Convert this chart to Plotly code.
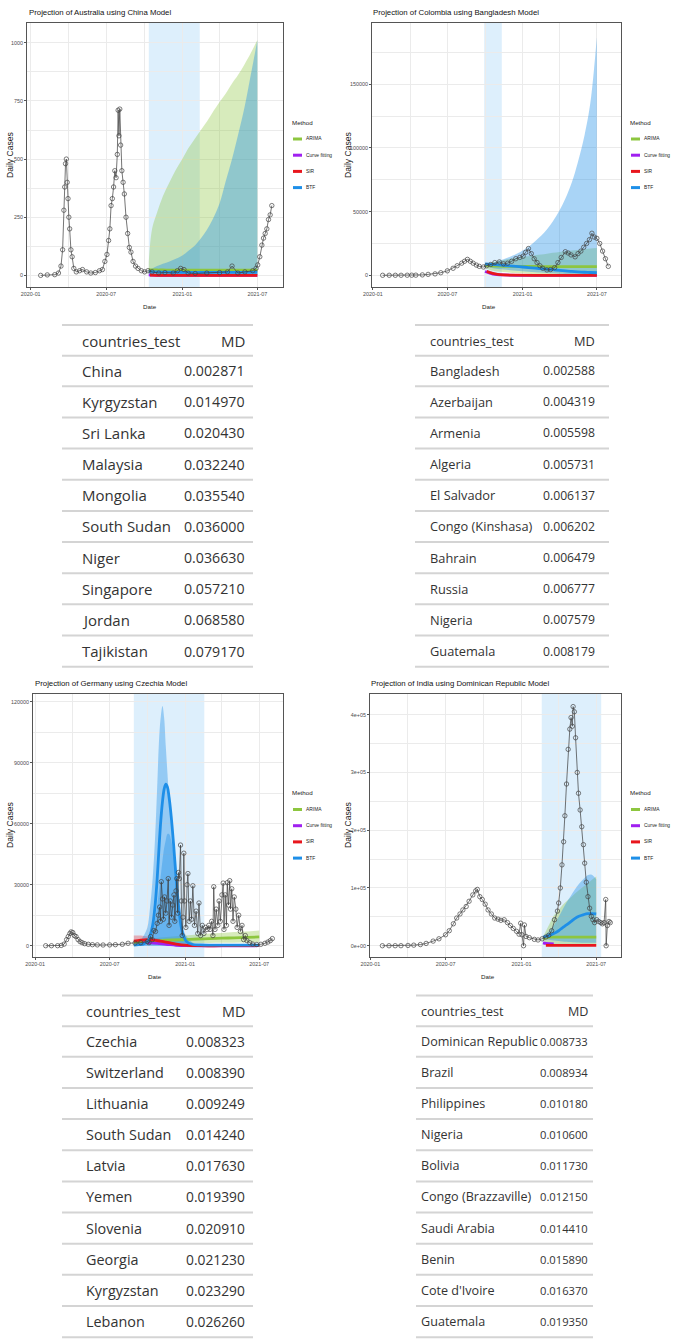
import plotly.graph_objects as go

W, H = 676, 1342

# ======================= DATA =======================
# ---- Australia (China model) ----
aus_obs_dates = ["2020-01-25","2020-02-10","2020-02-28","2020-03-08","2020-03-14","2020-03-18","2020-03-21","2020-03-23","2020-03-25","2020-03-27",
                 "2020-03-29","2020-03-31","2020-04-02","2020-04-04","2020-04-07","2020-04-10","2020-04-14","2020-04-20","2020-04-28","2020-05-05",
                 "2020-05-15","2020-05-25","2020-06-05","2020-06-15","2020-06-22","2020-06-28","2020-07-03","2020-07-07","2020-07-10","2020-07-13",
                 "2020-07-16","2020-07-19","2020-07-22","2020-07-25","2020-07-28","2020-07-30","2020-08-01","2020-08-03","2020-08-05","2020-08-08",
                 "2020-08-11","2020-08-14","2020-08-18","2020-08-22","2020-08-26","2020-08-30","2020-09-04","2020-09-10","2020-09-16","2020-09-24",
                 "2020-10-02","2020-10-10","2020-10-20","2020-11-05","2020-11-20","2020-12-10","2020-12-20","2020-12-28","2021-01-05","2021-01-15",
                 "2021-02-01","2021-03-01","2021-04-01","2021-04-20","2021-05-01","2021-05-15","2021-06-01","2021-06-20","2021-06-28","2021-07-02",
                 "2021-07-07","2021-07-12","2021-07-16","2021-07-20","2021-07-24","2021-07-28","2021-08-01","2021-08-05"]
aus_obs_cases = [0,2,3,10,40,110,280,380,480,500,
                 400,330,250,200,110,80,30,15,20,25,
                 15,10,12,20,25,60,90,150,200,300,
                 330,380,450,420,520,710,600,715,560,450,
                 400,350,250,180,120,100,60,40,30,20,
                 15,20,15,10,12,10,20,30,25,10,
                 8,10,12,15,40,10,15,20,30,45,
                 80,130,160,180,200,240,260,300]
aus_fc_dates = ["2020-10-12","2020-10-20","2020-11-01","2020-11-15","2020-12-01","2020-12-15","2021-01-01","2021-01-15","2021-02-01","2021-02-15",
                "2021-03-01","2021-03-15","2021-04-01","2021-04-15","2021-05-01","2021-05-15","2021-06-01","2021-06-15","2021-07-01"]
aus_arima    = [25,24,23,23,22,22,22,22,22,22,22,22,22,22,22,22,22,22,22]
aus_arima_lo = [0,0,0,0,0,0,0,0,0,0,0,0,0,0,0,0,0,0,0]
aus_arima_hi = [60,200,270,340,400,450,500,545,590,625,660,700,745,780,825,860,910,955,1012]
aus_btf      = [18,16,15,14,14,13,13,13,13,13,13,13,13,13,13,13,13,13,13]
aus_btf_lo   = [3,3,3,3,3,3,3,3,3,3,3,3,3,3,3,3,3,3,3]
aus_btf_hi   = [25,30,40,50,60,70,85,105,130,160,195,240,310,400,500,600,730,860,1010]
aus_curve_dates = ["2020-10-12","2020-10-20","2021-01-01","2021-07-01"]
aus_curve       = [2,1,0,0]
aus_sir_dates   = ["2020-10-15","2020-11-15","2021-01-01","2021-04-01","2021-07-01"]
aus_sir         = [1,0,0,0,0]
aus_window = ["2020-10-12","2021-02-12"]

# ---- Colombia (Bangladesh model) ----
col_obs_dates = ["2020-01-25","2020-02-10","2020-02-25","2020-03-10","2020-03-25","2020-04-05","2020-04-15","2020-05-01","2020-05-15","2020-06-01",
                 "2020-06-15","2020-07-01","2020-07-15","2020-07-25","2020-08-05","2020-08-12","2020-08-19","2020-08-26","2020-09-02","2020-09-10",
                 "2020-09-17","2020-09-27","2020-10-05","2020-10-15","2020-10-25","2020-11-05","2020-11-15","2020-11-25","2020-12-05","2020-12-15",
                 "2020-12-25","2021-01-02","2021-01-08","2021-01-15","2021-01-22","2021-01-29","2021-02-05","2021-02-12","2021-02-19","2021-03-01",
                 "2021-03-10","2021-03-20","2021-03-28","2021-04-05","2021-04-15","2021-04-22","2021-04-29","2021-05-09","2021-05-16","2021-05-23",
                 "2021-05-30","2021-06-06","2021-06-13","2021-06-19","2021-06-25","2021-07-01","2021-07-08","2021-07-15","2021-07-22","2021-07-29"]
col_obs_cases = [0,0,0,0,50,80,100,300,700,1100,
                 2000,3500,5500,7500,9500,11000,12500,11000,9500,8000,
                 7000,6500,7500,8500,10000,10500,9000,9500,11000,13000,
                 14000,15000,18000,21000,17000,13000,10000,7500,5500,4200,
                 4500,6000,10000,14000,18500,17500,16000,14500,17000,19000,
                 22000,25000,28000,33000,30000,29000,25000,19000,13000,7000]
col_fc_dates = ["2020-10-01","2020-10-15","2020-11-01","2020-11-15","2020-12-01","2020-12-15","2021-01-01","2021-01-15","2021-02-01","2021-02-15",
                "2021-03-01","2021-03-15","2021-04-01","2021-04-15","2021-05-01","2021-05-15","2021-06-01","2021-06-15","2021-07-01"]
col_arima    = [8000,7500,7200,7000,7000,7000,6900,6900,6900,6800,6800,6800,6800,6800,6800,6800,6800,6800,6800]
col_arima_lo = [6000,4000,3000,2500,2000,1800,1500,1300,1100,1000,900,800,700,600,500,400,300,200,100]
col_arima_hi = [9000,10000,11000,12000,13000,13500,14500,15000,15800,16400,17000,17600,18300,18800,19400,19900,20500,21000,21500]
col_btf      = [9000,8600,8200,7800,7400,7000,6500,6100,5600,5200,4800,4400,3900,3500,3000,2700,2400,2200,2000]
col_btf_lo   = [7000,6000,5000,4500,4000,3600,3200,2800,2400,2100,1800,1500,1300,1100,900,800,600,500,400]
col_btf_hi   = [9000,9500,11000,12500,14500,16500,19500,22500,27000,31000,36000,42000,51000,60000,73000,88000,110000,135000,187000]
col_curve_dates = ["2020-10-01","2020-10-10","2020-10-20","2020-11-15","2021-07-01"]
col_curve       = [3000,2000,1000,300,0]
col_sir_dates   = ["2020-10-05","2020-10-12","2020-10-20","2020-11-01","2020-11-15","2020-12-15","2021-02-01","2021-04-01","2021-07-01"]
col_sir         = [3000,2300,1500,700,300,100,0,0,0]
col_window = ["2020-09-29","2020-11-11"]

# ---- Germany (Czechia model) ----
ger_obs_dates = ["2020-01-27","2020-02-10","2020-02-25","2020-03-05","2020-03-12","2020-03-18","2020-03-22","2020-03-26","2020-03-29","2020-04-02",
                 "2020-04-06","2020-04-10","2020-04-15","2020-04-20","2020-04-25","2020-05-01","2020-05-10","2020-05-20","2020-06-01","2020-06-15",
                 "2020-07-01","2020-07-15","2020-08-01","2020-08-15","2020-09-01","2020-09-15",
                 "2020-10-01","2020-10-05","2020-10-09","2020-10-13","2020-10-17","2020-10-21","2020-10-25","2020-10-28","2020-10-31","2020-11-02",
                 "2020-11-04","2020-11-07","2020-11-09","2020-11-12","2020-11-15","2020-11-18","2020-11-21","2020-11-23","2020-11-26","2020-11-29",
                 "2020-12-02","2020-12-05","2020-12-07","2020-12-10","2020-12-12","2020-12-14","2020-12-16","2020-12-18","2020-12-21","2020-12-23",
                 "2020-12-25","2020-12-27","2020-12-29","2020-12-31","2021-01-03","2021-01-06","2021-01-08","2021-01-11","2021-01-14","2021-01-17",
                 "2021-01-20","2021-01-24","2021-01-28","2021-02-01","2021-02-04","2021-02-08","2021-02-12","2021-02-16","2021-02-20","2021-02-24",
                 "2021-02-28","2021-03-03","2021-03-07","2021-03-10","2021-03-12","2021-03-15","2021-03-18","2021-03-22","2021-03-25","2021-03-28",
                 "2021-04-01","2021-04-04","2021-04-06","2021-04-09","2021-04-12","2021-04-14","2021-04-17","2021-04-20","2021-04-22","2021-04-25",
                 "2021-04-28","2021-05-01","2021-05-05","2021-05-08","2021-05-12","2021-05-16","2021-05-20","2021-05-24","2021-05-28","2021-06-01",
                 "2021-06-08","2021-06-15","2021-06-25","2021-07-05","2021-07-15","2021-07-22","2021-07-28","2021-08-02"]
ger_obs_cases = [0,0,10,150,800,3000,4500,6000,6800,6500,
                 5000,4500,3000,2000,1500,1000,700,500,400,350,
                 400,500,700,1200,1300,1500,
                 2000,1500,4500,3000,7500,7000,11000,15000,19000,12000,
                 31500,23000,13000,24000,16000,22000,33000,10000,22000,14000,
                 20000,25000,12000,27000,33000,16000,36000,33000,49500,22000,
                 5000,14000,45500,22000,9000,30000,35500,12000,22000,13000,
                 29500,10000,17000,6000,21000,5000,10000,6000,9000,8000,
                 10000,8000,12000,5000,29000,8000,18000,10000,22000,12000,
                 25000,30800,8000,25000,10000,31000,20000,32000,18000,28000,
                 12000,24000,18000,9000,15000,7000,10000,3000,5000,2500,
                 1500,800,600,700,1200,1800,2500,3500]
ger_btf_dates = ["2020-08-29","2020-09-10","2020-09-21","2020-10-01","2020-10-07","2020-10-14","2020-10-20","2020-10-25","2020-10-30","2020-11-03",
                 "2020-11-07","2020-11-11","2020-11-15","2020-11-19","2020-11-23","2020-11-28","2020-12-04","2020-12-10","2020-12-16","2020-12-22",
                 "2020-12-28","2021-01-05","2021-01-20","2021-02-07","2021-03-01","2021-04-01","2021-05-01","2021-06-01","2021-07-01"]
ger_btf       = [300,500,800,2000,4500,10000,20000,33000,50000,62000,
                 71000,77000,79500,78000,73000,64000,50000,34000,20000,10000,
                 5000,2000,600,400,300,300,300,300,300]
ger_btf_hi95  = [500,1500,4600,9000,17700,33000,53700,78000,102800,113000,
                 117900,112000,98000,85000,72000,60000,48000,35000,24000,15000,
                 8000,4500,1500,800,600,500,500,500,500]
ger_btf_hi80  = [0,100,300,1000,3000,7000,13000,20000,28000,35000,
                 42000,48000,52000,55000,55000,52000,45000,34000,22000,12000,
                 7000,2000,300,100,0,0,0,0,0]
ger_btf_lo    = [0,0,0,0,0,0,0,0,0,0,0,0,0,0,0,0,0,0,0,0,0,0,0,0,0,0,0,0,0]
ger_arima_dates = ["2020-08-29","2020-10-01","2020-11-01","2020-12-01","2021-01-01","2021-02-01","2021-03-01","2021-04-01","2021-05-01","2021-06-01","2021-07-01"]
ger_arima    = [1500,2000,2500,2800,3000,3300,3500,3700,3900,4100,4300]
ger_arima_lo = [1200,1000,1000,1100,1200,1300,1300,1400,1500,1600,1700]
ger_arima_hi = [1800,3000,4000,4500,5000,5500,6000,6300,6700,7000,7500]
ger_sir_dates = ["2020-08-29","2020-09-15","2020-10-01","2020-10-15","2020-11-01","2020-11-15","2020-12-01","2020-12-15","2021-01-01","2021-01-20",
                 "2021-02-10","2021-04-01","2021-07-01"]
ger_sir      = [2300,2800,3000,2800,2300,1800,1200,700,300,100,0,0,0]
ger_sir_lo   = [1800,2000,2000,1800,1400,1100,700,400,150,50,0,0,0]
ger_sir_hi   = [5000,5000,4500,4000,3200,2500,1700,1000,500,200,0,0,0]
ger_curve_dates = ["2020-09-20","2020-10-10","2020-11-01","2020-11-20","2020-12-10","2021-01-01","2021-07-01"]
ger_curve       = [1500,1400,1000,600,200,0,0]
ger_window = ["2020-08-29","2021-02-17"]

# ---- India (Dominican Republic model) ----
ind_obs_dates = ["2020-01-30","2020-02-15","2020-03-01","2020-03-15","2020-04-01","2020-04-15","2020-05-01","2020-05-15","2020-06-01","2020-06-15",
                 "2020-07-01","2020-07-10","2020-07-20","2020-07-28","2020-08-05","2020-08-12","2020-08-20","2020-08-27","2020-09-05","2020-09-12",
                 "2020-09-16","2020-09-22","2020-09-28","2020-10-05","2020-10-12","2020-10-20","2020-10-28","2020-11-05","2020-11-12","2020-11-20",
                 "2020-11-28","2020-12-05","2020-12-12","2020-12-20","2020-12-26","2020-12-30","2021-01-02","2021-01-06","2021-01-08","2021-01-12",
                 "2021-01-20","2021-02-01","2021-02-10","2021-02-20","2021-03-01","2021-03-08","2021-03-15","2021-03-22","2021-03-29","2021-04-01",
                 "2021-04-05","2021-04-09","2021-04-13","2021-04-16","2021-04-20","2021-04-24","2021-04-28","2021-05-01","2021-05-04","2021-05-06",
                 "2021-05-09","2021-05-12","2021-05-16","2021-05-19","2021-05-23","2021-05-27","2021-05-31","2021-06-03","2021-06-07","2021-06-11",
                 "2021-06-15","2021-06-19","2021-06-23","2021-06-27","2021-07-02","2021-07-07","2021-07-12","2021-07-16","2021-07-20","2021-07-24",
                 "2021-07-25","2021-07-28","2021-08-01","2021-08-04"]
ind_obs_cases = [0,0,50,100,500,1000,2000,4000,8000,12000,
                 19000,26000,38000,48000,55000,62000,68000,77000,88000,95000,
                 97500,85000,80000,72000,62000,55000,48000,46000,44000,45000,
                 40000,35000,30000,25000,20000,39000,19000,0,36000,16000,
                 14000,11000,10000,12000,15000,18000,26000,45000,60000,74000,
                 100000,140000,180000,225000,280000,340000,375000,395000,380000,414000,
                 405000,360000,300000,264000,235000,206000,175000,143000,110000,85000,
                 65000,51000,45000,40000,45000,42000,40000,38000,40000,80000,
                 0,35000,42000,40000]
ind_fc_dates = ["2021-02-22","2021-03-01","2021-03-10","2021-03-20","2021-04-01","2021-04-10","2021-04-20","2021-05-01","2021-05-10","2021-05-20",
                "2021-06-01","2021-06-10","2021-06-20","2021-07-01"]
ind_arima    = [12000,14000,15000,15000,15000,15000,15000,15000,15000,15000,15000,15000,15000,15000]
ind_arima_lo = [9000,6000,4000,3000,2500,2000,1500,1200,1000,800,600,500,400,300]
ind_arima_hi = [15000,25000,38000,52000,62000,70000,77000,84000,90000,96000,103000,108000,114000,120000]
ind_btf      = [15000,16000,18000,21000,26000,31000,36000,42000,47000,51000,54000,55500,55500,55000]
ind_btf_lo   = [14000,12000,10000,9000,8000,7500,7000,6500,6000,5500,5000,5000,5000,5000]
ind_btf_hi   = [16000,20000,26000,35000,50000,62000,75000,87000,97000,107000,116000,122000,123000,115000]
ind_curve_dates = ["2021-02-22","2021-03-01","2021-03-10","2021-03-20"]
ind_curve       = [5000,4000,3500,3000]
ind_sir_dates   = ["2021-03-01","2021-04-01","2021-05-01","2021-06-01","2021-07-01"]
ind_sir         = [600,500,500,500,500]
ind_window = ["2021-02-19","2021-07-13"]

# ---- y tick labels ----
aus_yticks = [0, 250, 500, 750, 1000];            aus_ylabels = ["0", "250", "500", "750", "1000"]
col_yticks = [0, 50000, 100000, 150000];          col_ylabels = ["0", "50000", "100000", "150000"]
ger_yticks = [0, 30000, 60000, 90000, 120000];    ger_ylabels = ["0", "30000", "60000", "90000", "120000"]
ind_yticks = [0, 100000, 200000, 300000, 400000]; ind_ylabels = ["0e+00", "1e+05", "2e+05", "3e+05", "4e+05"]
aus_yminor = [125, 375, 625, 875]
col_yminor = [25000, 75000, 125000, 175000]
ger_yminor = [15000, 45000, 75000, 105000]
ind_yminor = [50000, 150000, 250000, 350000]

methods = ["ARIMA", "Curve fitting", "SIR", "BTF"]

# ---- tables ----
table_header = ["countries_test", "MD"]
tl_countries = ["China","Kyrgyzstan","Sri Lanka","Malaysia","Mongolia","South Sudan","Niger","Singapore","Jordan","Tajikistan"]
tl_md = [0.002871,0.014970,0.020430,0.032240,0.035540,0.036000,0.036630,0.057210,0.068580,0.079170]
tr_countries = ["Bangladesh","Azerbaijan","Armenia","Algeria","El Salvador","Congo (Kinshasa)","Bahrain","Russia","Nigeria","Guatemala"]
tr_md = [0.002588,0.004319,0.005598,0.005731,0.006137,0.006202,0.006479,0.006777,0.007579,0.008179]
bl_countries = ["Czechia","Switzerland","Lithuania","South Sudan","Latvia","Yemen","Slovenia","Georgia","Kyrgyzstan","Lebanon"]
bl_md = [0.008323,0.008390,0.009249,0.014240,0.017630,0.019390,0.020910,0.021230,0.023290,0.026260]
br_countries = ["Dominican Republic","Brazil","Philippines","Nigeria","Bolivia","Congo (Brazzaville)","Saudi Arabia","Benin","Cote d'Ivoire","Guatemala"]
br_md = [0.008733,0.008934,0.010180,0.010600,0.011730,0.012150,0.014410,0.015890,0.016370,0.019350]

for a, b in [(aus_obs_dates, aus_obs_cases), (col_obs_dates, col_obs_cases), (ger_obs_dates, ger_obs_cases), (ind_obs_dates, ind_obs_cases)]:
    assert len(a) == len(b), (len(a), len(b))

# ======================= STYLE =======================
def X(p): return p / W
def Y(p): return 1 - p / H

SANS = "Liberation Sans, Arial, sans-serif"
TABLE_FONT = "Open Sans, Noto Sans, sans-serif"
C = {"ARIMA": "#8DC63F", "Curve fitting": "#A020F0", "SIR": "#E8161D", "BTF": "#1E8FE8"}
F_ARIMA = "rgba(141,198,63,0.35)"
F_BTF = "rgba(30,143,232,0.38)"
F_SIR = "rgba(232,22,29,0.30)"
WINDOW_FILL = "rgba(150,205,245,0.32)"
GRID = "#EBEBEB"

fig = go.Figure()


def ax_ids(n):
    s = "" if n == 1 else str(n)
    return "x" + s, "y" + s, s


def ribbon(n, dates, lo, hi, fill):
    xa, ya, _ = ax_ids(n)
    fig.add_trace(go.Scatter(x=dates, y=lo, mode="lines", line=dict(width=0, shape="spline"),
                             xaxis=xa, yaxis=ya, showlegend=False, hoverinfo="skip"))
    fig.add_trace(go.Scatter(x=dates, y=hi, mode="lines", line=dict(width=0, shape="spline"),
                             fill="tonexty", fillcolor=fill, xaxis=xa, yaxis=ya,
                             showlegend=False, hoverinfo="skip"))


def line(n, dates, vals, method):
    xa, ya, _ = ax_ids(n)
    fig.add_trace(go.Scatter(x=dates, y=vals, mode="lines", name=method,
                             line=dict(color=C[method], width=2.8, shape="spline"),
                             xaxis=xa, yaxis=ya, showlegend=False))


def observed(n, dates, vals):
    xa, ya, _ = ax_ids(n)
    fig.add_trace(go.Scatter(x=dates, y=vals, mode="lines+markers",
                             line=dict(color="#3a3a3a", width=0.7),
                             marker=dict(symbol="circle-open", size=4.4, color="#444444", line=dict(width=0.7)),
                             xaxis=xa, yaxis=ya, showlegend=False))


def axes(n, xd, yd, xr, yr, yticks, ylabels, yminor, window):
    xa, ya, s = ax_ids(n)
    tickfont = dict(family=SANS, size=5.4, color="#4D4D4D")
    common = dict(showline=True, mirror=True, linecolor="#555555", linewidth=1,
                  showgrid=True, gridcolor=GRID, gridwidth=1, zeroline=False, automargin=False,
                  ticks="outside", ticklen=2, tickwidth=0.6, tickcolor="#555555", tickfont=tickfont)
    fig.update_layout(**{
        "xaxis" + s: dict(domain=[X(xd[0]), X(xd[1])], range=list(xr), anchor=ya, type="date",
                          tickformat="%Y-%m", dtick="M6", tick0="2020-01-01",
                          minor=dict(dtick="M3", tick0="2020-01-01", showgrid=True, gridcolor=GRID, gridwidth=0.5),
                          **common),
        "yaxis" + s: dict(domain=[Y(yd[1]), Y(yd[0])], range=list(yr), anchor=xa,
                          tickmode="array", tickvals=yticks, ticktext=ylabels,
                          minor=dict(tickvals=yminor, showgrid=True, gridcolor=GRID, gridwidth=0.5),
                          **common),
    })
    fig.add_shape(type="rect", xref=xa, yref=ya + " domain", x0=window[0], x1=window[1], y0=0, y1=1,
                  fillcolor=WINDOW_FILL, line=dict(width=0), layer="below")


def texts(title, tx, ty, ylab_x, ylab_y, date_x, date_y, leg_x, leg_y):
    fig.add_annotation(text=title, x=X(tx), y=Y(ty), xref="paper", yref="paper", xanchor="left", yanchor="middle",
                       showarrow=False, font=dict(family=SANS, size=7.8, color="#111111"))
    fig.add_annotation(text="Daily Cases", x=X(ylab_x), y=Y(ylab_y), xref="paper", yref="paper", textangle=-90,
                       xanchor="center", yanchor="middle", showarrow=False, font=dict(family=SANS, size=8.6, color="#222222"))
    fig.add_annotation(text="Date", x=X(date_x), y=Y(date_y), xref="paper", yref="paper", xanchor="center",
                       yanchor="middle", showarrow=False, font=dict(family=SANS, size=6.2, color="#222222"))
    fig.add_annotation(text="Method", x=X(leg_x), y=Y(leg_y), xref="paper", yref="paper", xanchor="left",
                       yanchor="middle", showarrow=False, font=dict(family=SANS, size=6.2, color="#222222"))
    for i, m in enumerate(methods):
        yy = leg_y + 17 + 16.2 * i
        fig.add_shape(type="line", xref="paper", yref="paper", x0=X(leg_x + 3), x1=X(leg_x + 12),
                      y0=Y(yy), y1=Y(yy), line=dict(color=C[m], width=3))
        fig.add_annotation(text=m, x=X(leg_x + 14), y=Y(yy), xref="paper", yref="paper", xanchor="left",
                           yanchor="middle", showarrow=False, font=dict(family=SANS, size=4.9, color="#222222"))


# ---- Panel 1: Australia ----
axes(1, (27, 283), (23, 287), ("2019-12-23", "2021-09-01"), (-50, 1085), aus_yticks, aus_ylabels, aus_yminor, aus_window)
ribbon(1, aus_fc_dates, aus_arima_lo, aus_arima_hi, F_ARIMA)
ribbon(1, aus_fc_dates, aus_btf_lo, aus_btf_hi, F_BTF)
line(1, aus_fc_dates, aus_arima, "ARIMA")
line(1, aus_curve_dates, aus_curve, "Curve fitting")
line(1, aus_sir_dates, aus_sir, "SIR")
line(1, aus_fc_dates, aus_btf, "BTF")
observed(1, aus_obs_dates, aus_obs_cases)
texts("Projection of Australia using China Model", 27, 12.5, 10, 155, 150, 306.5, 290, 122)

# ---- Panel 2: Colombia ----
axes(2, (372, 621), (23, 287), ("2019-12-30", "2021-08-29"), (-9200, 198100), col_yticks, col_ylabels, col_yminor, col_window)
ribbon(2, col_fc_dates, col_arima_lo, col_arima_hi, F_ARIMA)
ribbon(2, col_fc_dates, col_btf_lo, col_btf_hi, F_BTF)
line(2, col_fc_dates, col_arima, "ARIMA")
line(2, col_curve_dates, col_curve, "Curve fitting")
line(2, col_sir_dates, col_sir, "SIR")
line(2, col_fc_dates, col_btf, "BTF")
observed(2, col_obs_dates, col_obs_cases)
texts("Projection of Colombia using Bangladesh Model", 371, 12.5, 348, 155, 489, 306.5, 628, 122)

# ---- Panel 3: Germany ----
axes(3, (33, 283), (694, 957), ("2019-12-27", "2021-08-28"), (-5550, 123800), ger_yticks, ger_ylabels, ger_yminor, ger_window)
ribbon(3, ger_arima_dates, ger_arima_lo, ger_arima_hi, F_ARIMA)
ribbon(3, ger_sir_dates, ger_sir_lo, ger_sir_hi, F_SIR)
ribbon(3, ger_btf_dates, ger_btf_lo, ger_btf_hi95, F_BTF)
ribbon(3, ger_btf_dates, ger_btf_lo, ger_btf_hi80, F_BTF)
line(3, ger_arima_dates, ger_arima, "ARIMA")
line(3, ger_curve_dates, ger_curve, "Curve fitting")
line(3, ger_sir_dates, ger_sir, "SIR")
line(3, ger_btf_dates, ger_btf, "BTF")
observed(3, ger_obs_dates, ger_obs_cases)
texts("Projection of Germany using Czechia Model", 33, 683, 10, 825, 155, 976.5, 290, 792.5)

# ---- Panel 4: India ----
axes(4, (370, 621), (694, 957), ("2019-12-31", "2021-08-30"), (-19500, 435800), ind_yticks, ind_ylabels, ind_yminor, ind_window)
ribbon(4, ind_fc_dates, ind_arima_lo, ind_arima_hi, F_ARIMA)
ribbon(4, ind_fc_dates, ind_btf_lo, ind_btf_hi, F_BTF)
line(4, ind_fc_dates, ind_arima, "ARIMA")
line(4, ind_curve_dates, ind_curve, "Curve fitting")
line(4, ind_sir_dates, ind_sir, "SIR")
line(4, ind_fc_dates, ind_btf, "BTF")
observed(4, ind_obs_dates, ind_obs_cases)
texts("Projection of India using Dominican Republic Model", 369, 683, 348, 825, 488, 976.5, 628, 792.5)


# ---- Tables (header + rows as text, horizontal rules) ----
def table(countries, md, name_x, val_x, line_x, head_y, row0_y, row_h, fsize, vsize):
    font = dict(family=TABLE_FONT, size=fsize, color="#333333")
    vfont = dict(family=TABLE_FONT, size=vsize, color="#333333")
    fig.add_annotation(text=table_header[0], x=X(name_x), y=Y(head_y), xref="paper", yref="paper",
                       xanchor="left", yanchor="middle", showarrow=False, font=font)
    fig.add_annotation(text=table_header[1], x=X(val_x), y=Y(head_y), xref="paper", yref="paper",
                       xanchor="right", yanchor="middle", showarrow=False, font=font)
    for i, (c, v) in enumerate(zip(countries, md)):
        yy = row0_y + i * row_h
        fig.add_annotation(text=c, x=X(name_x), y=Y(yy), xref="paper", yref="paper",
                           xanchor="left", yanchor="middle", showarrow=False, font=font)
        fig.add_annotation(text=f"{v:.6f}", x=X(val_x), y=Y(yy), xref="paper", yref="paper",
                           xanchor="right", yanchor="middle", showarrow=False, font=vfont)
    n = len(countries)
    ys = [head_y - 15.7, (head_y + row0_y) / 2] + [row0_y + (k + 0.5) * row_h for k in range(n)]
    for yy in ys:
        fig.add_shape(type="line", xref="paper", yref="paper", x0=X(line_x[0]), x1=X(line_x[1]),
                      y0=Y(yy), y1=Y(yy), line=dict(color="#D4D4D4", width=2))


table(tl_countries, tl_md, 80, 247, (62, 253), 340.7, 370.7, 31.15, 15, 14.2)
table(tr_countries, tr_md, 428, 597, (415, 609), 340.7, 370.7, 31.15, 12.8, 12.2)
table(bl_countries, bl_md, 84, 247, (62, 253), 1011.2, 1041.2, 31.15, 14.4, 13.8)
table(br_countries, br_md, 419, 590, (416, 593), 1011.2, 1041.2, 31.15, 12.6, 11.2)

fig.update_layout(template="none", width=W, height=H, autosize=False, margin=dict(l=0, r=0, t=0, b=0, pad=0),
                  paper_bgcolor="white", plot_bgcolor="white", showlegend=False)

fig.write_html("out.html", config={"displayModeBar": False}, post_script="document.body.style.margin='0px';")
